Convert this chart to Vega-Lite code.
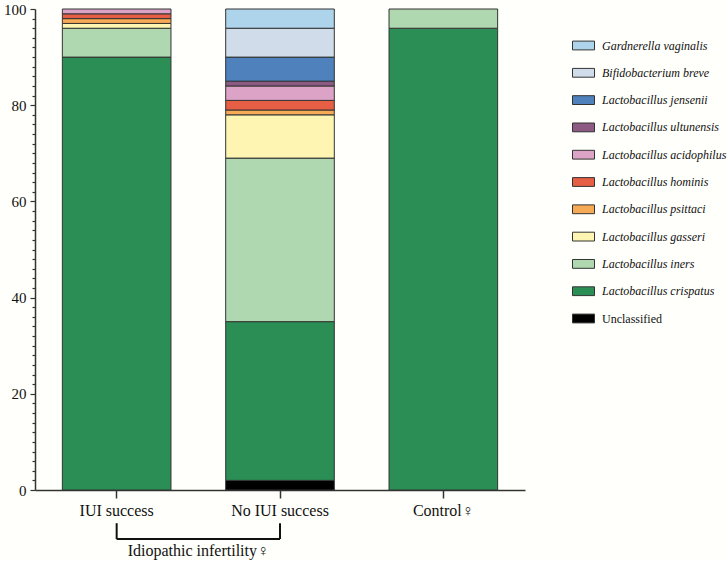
{
  "$schema": "https://vega.github.io/schema/vega-lite/v6.json",
  "width": 490,
  "height": 481,
  "autosize": "none",
  "padding": {"left": 35, "top": 9, "right": 202, "bottom": 71},
  "background": "#fffffb",
  "config": {"view": {"stroke": null}, "font": "Liberation Serif", "axis": {"labelOverlap": false}},
  "datasets": {
    "bars": [
      {"group": "IUI success", "taxon": "Lactobacillus crispatus", "rank": 1, "pct": 90},
      {"group": "IUI success", "taxon": "Lactobacillus iners", "rank": 2, "pct": 6},
      {"group": "IUI success", "taxon": "Lactobacillus gasseri", "rank": 3, "pct": 1},
      {"group": "IUI success", "taxon": "Lactobacillus psittaci", "rank": 4, "pct": 1},
      {"group": "IUI success", "taxon": "Lactobacillus hominis", "rank": 5, "pct": 1},
      {"group": "IUI success", "taxon": "Lactobacillus acidophilus", "rank": 6, "pct": 1},
      {"group": "No IUI success", "taxon": "Unclassified", "rank": 0, "pct": 2},
      {"group": "No IUI success", "taxon": "Lactobacillus crispatus", "rank": 1, "pct": 33},
      {"group": "No IUI success", "taxon": "Lactobacillus iners", "rank": 2, "pct": 34},
      {"group": "No IUI success", "taxon": "Lactobacillus gasseri", "rank": 3, "pct": 9},
      {"group": "No IUI success", "taxon": "Lactobacillus psittaci", "rank": 4, "pct": 1},
      {"group": "No IUI success", "taxon": "Lactobacillus hominis", "rank": 5, "pct": 2},
      {"group": "No IUI success", "taxon": "Lactobacillus acidophilus", "rank": 6, "pct": 3},
      {"group": "No IUI success", "taxon": "Lactobacillus ultunensis", "rank": 7, "pct": 1},
      {"group": "No IUI success", "taxon": "Lactobacillus jensenii", "rank": 8, "pct": 5},
      {"group": "No IUI success", "taxon": "Bifidobacterium breve", "rank": 9, "pct": 6},
      {"group": "No IUI success", "taxon": "Gardnerella vaginalis", "rank": 10, "pct": 4},
      {"group": "Control♀", "taxon": "Lactobacillus crispatus", "rank": 1, "pct": 96},
      {"group": "Control♀", "taxon": "Lactobacillus iners", "rank": 2, "pct": 4}
    ],
    "ends": [
      {"group": "IUI success"},
      {"group": "No IUI success"}
    ],
    "span": [
      {"from": "IUI success", "to": "No IUI success", "label": "Idiopathic infertility♀"}
    ]
  },
  "layer": [
    {
      "data": {"name": "bars"},
      "mark": {"type": "bar", "stroke": "#333333", "strokeWidth": 1},
      "encoding": {
        "x": {
          "field": "group",
          "type": "nominal",
          "scale": {"domain": ["IUI success", "No IUI success", "Control♀"], "paddingInner": 0.335, "paddingOuter": 0.1675},
          "axis": {"title": null, "labelAngle": 0, "labelFontSize": 16, "labelColor": "#111111", "tickSize": 8, "labelPadding": 4, "domainColor": "#333333", "tickColor": "#333333", "domainWidth": 1.5, "tickWidth": 1.5}
        },
        "y": {
          "field": "pct",
          "type": "quantitative",
          "stack": "zero",
          "scale": {"domain": [0, 100], "nice": false},
          "axis": {
            "title": null,
            "grid": false,
            "tickCount": 200,
            "format": "d",
            "values": [0,2,4,6,8,10,12,14,16,18,20,22,24,26,28,30,32,34,36,38,40,42,44,46,48,50,52,54,56,58,60,62,64,66,68,70,72,74,76,78,80,82,84,86,88,90,92,94,96,98,100],
            "labelExpr": "datum.value % 20 === 0 ? format(datum.value, 'd') : ''",
            "tickSize": {"condition": {"test": "datum.value % 20 === 0", "value": 5}, "value": 3},
            "labelOverlap": false,
            "labelFlush": false,
            "labelFontSize": 15,
            "labelColor": "#111111",
            "labelPadding": 4,
            "domainColor": "#333333",
            "tickColor": "#333333",
            "domainWidth": 1.5,
            "tickWidth": 1.2
          }
        },
        "color": {
          "field": "taxon",
          "type": "nominal",
          "scale": {
            "domain": ["Gardnerella vaginalis", "Bifidobacterium breve", "Lactobacillus jensenii", "Lactobacillus ultunensis", "Lactobacillus acidophilus", "Lactobacillus hominis", "Lactobacillus psittaci", "Lactobacillus gasseri", "Lactobacillus iners", "Lactobacillus crispatus", "Unclassified"],
            "range": ["#aed4ec", "#d1dcea", "#4f82bd", "#8c5a82", "#dca3c6", "#e65f45", "#f7aa55", "#fef5b2", "#b0d8b0", "#2a8e55", "#000000"]
          },
          "legend": {
            "title": null,
            "orient": "none",
            "legendX": 537,
            "legendY": 25,
            "padding": 0,
            "symbolType": "M-1,-0.4H1V0.4H-1Z",
            "symbolSize": 484,
            "symbolStrokeColor": "#333333",
            "symbolStrokeWidth": 1,
            "symbolOpacity": 1,
            "labelFontSize": 12,
            "labelColor": "#111111",
            "labelFontStyle": {"expr": "datum.label === 'Unclassified' ? 'normal' : 'italic'"},
            "rowPadding": 9.3,
            "labelOffset": 7,
            "labelLimit": 250
          }
        },
        "order": {"field": "rank", "type": "quantitative"}
      }
    },
    {
      "data": {"name": "ends"},
      "mark": {"type": "rule", "color": "#111111", "strokeWidth": 2},
      "encoding": {
        "x": {"field": "group", "type": "nominal"},
        "y": {"datum": -6.9, "type": "quantitative"},
        "y2": {"datum": -10.2}
      }
    },
    {
      "data": {"name": "span"},
      "mark": {"type": "rule", "color": "#111111", "strokeWidth": 2},
      "encoding": {
        "x": {"field": "from", "type": "nominal"},
        "x2": {"field": "to"},
        "y": {"datum": -10.2, "type": "quantitative"}
      }
    },
    {
      "data": {"name": "span"},
      "mark": {"type": "text", "fontSize": 16, "color": "#111111", "align": "center", "baseline": "middle"},
      "encoding": {
        "x": {"field": "from", "type": "nominal", "bandPosition": 1.252},
        "y": {"datum": -12.6, "type": "quantitative"},
        "text": {"field": "label"}
      }
    }
  ]
}
